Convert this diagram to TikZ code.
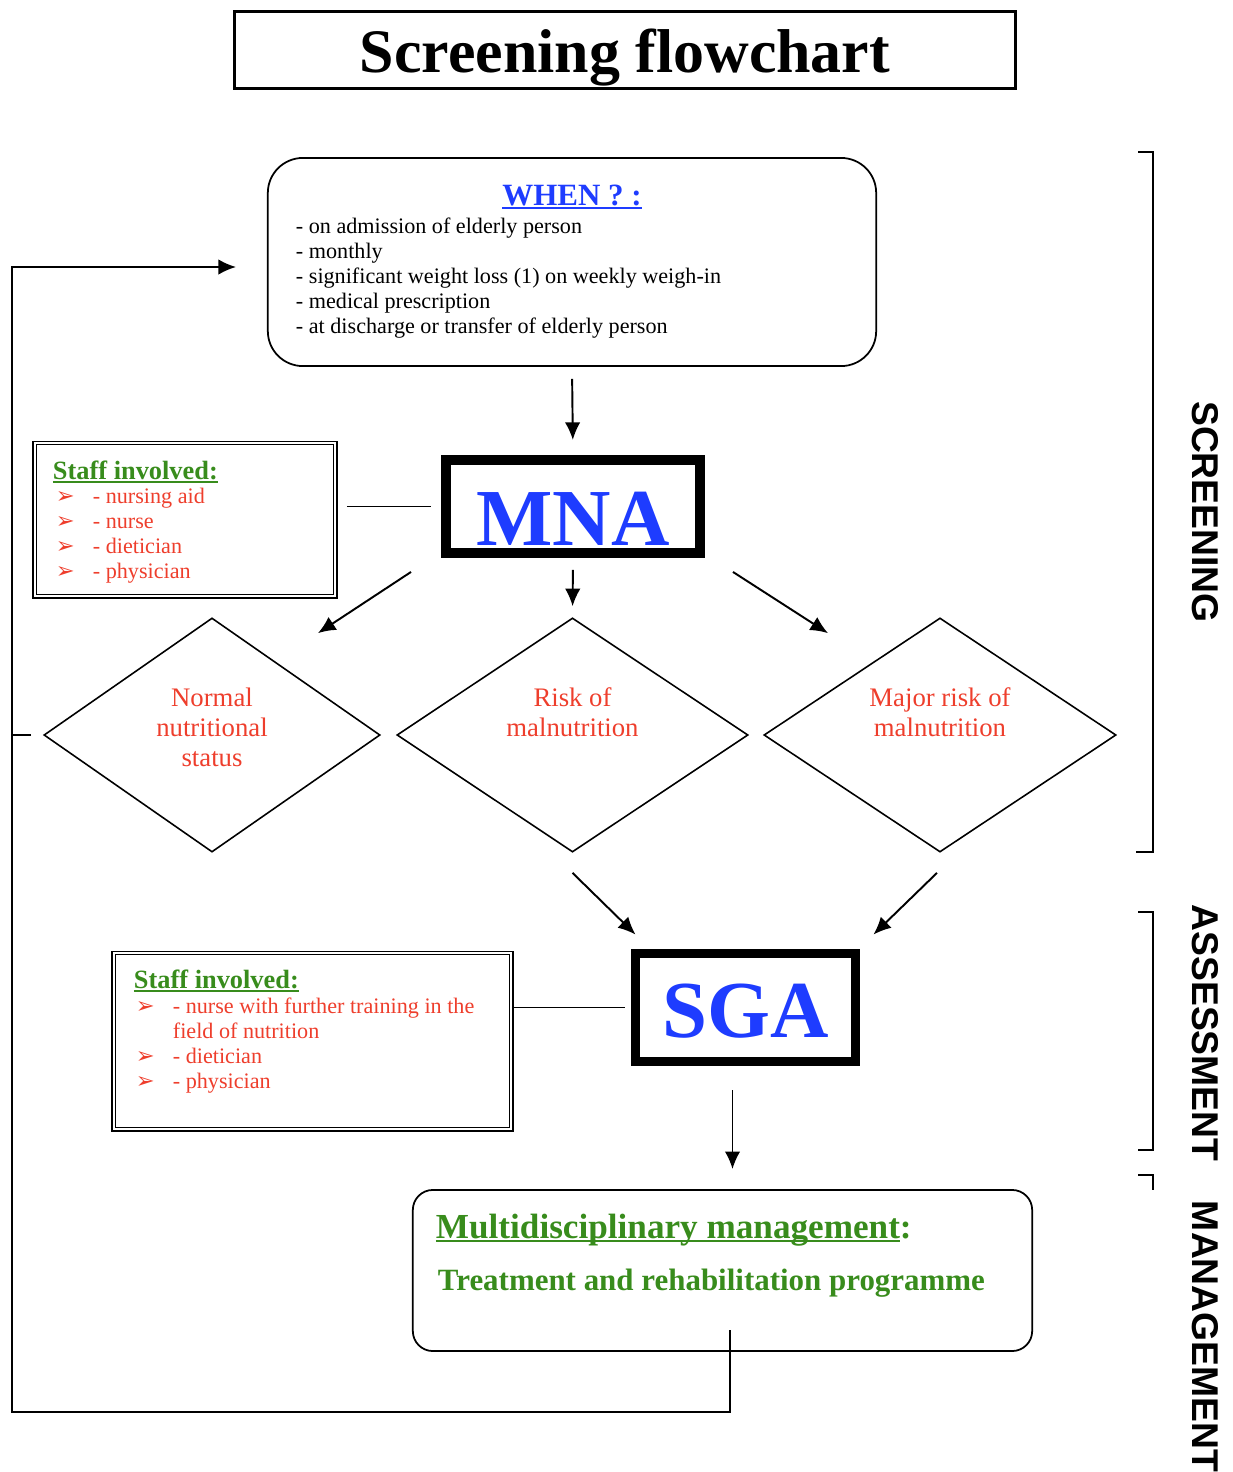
\documentclass[tikz,border=0pt]{standalone}
\usepackage{fontspec}
\setmainfont{Liberation Serif}
\newfontfamily\lsans{Liberation Sans}
\newfontfamily\symf{DejaVu Sans}
\usetikzlibrary{shapes.geometric,arrows.meta}
\definecolor{bl}{RGB}{30,60,255}
\definecolor{rd}{RGB}{238,62,44}
\definecolor{gn}{RGB}{56,140,28}
\newsavebox\ulbox
\newcommand{\undl}[1]{\sbox\ulbox{#1}\rlap{\rule[-1.2pt]{\wd\ulbox}{0.7pt}}\usebox\ulbox}
\newcommand{\bul}{\makebox[10.5pt][l]{\symf\fontsize{6.4}{6}\selectfont ➢}}

\begin{document}
\begin{tikzpicture}[x=0.01cm,y=-0.01cm,>={Latex[length=5pt,width=4.4pt]},line width=0.55pt,
    every node/.style={inner sep=0pt},
    bigbox/.style={draw,line width=2.8pt,text=bl,font=\bfseries\fontsize{23}{23}\selectfont},
    staffbox/.style={draw,line width=0.4pt,double,double distance=0.6pt},
    diam/.style={draw,diamond,line width=0.45pt,minimum width=3.36cm,minimum height=2.34cm},
    dtext/.style={align=center,text=rd,font=\fontsize{7.6}{8.6}\selectfont},
    stitle/.style={anchor=base west,text=gn,font=\bfseries\fontsize{7.5}{8}\selectfont},
    slist/.style={anchor=base west,align=left,text=rd,font=\fontsize{6.3}{7.1}\selectfont},
    side/.style={rotate=-90,font=\lsans\bfseries\fontsize{10.6}{11}\selectfont}]
    \useasboundingbox (0,0) rectangle (1232,1472);
    \node[draw,line width=1pt,minimum width=7.81cm,minimum height=0.77cm,text height=12.6pt,text depth=0pt,font=\bfseries\fontsize{17.6}{18}\selectfont] (title) at (625,50) {Screening flowchart};
    \node[draw,line width=0.5pt,rounded corners=0.35cm,minimum width=6.08cm,minimum height=2.08cm] (when) at (572,262) {};
    \node[anchor=base,text=bl,font=\bfseries\fontsize{8.8}{9}\selectfont] (whent) at (572,205) {\undl{WHEN ? :}};
    \node[anchor=base west,align=left,font=\fontsize{6.3}{7.1}\selectfont] (whenl) at (295,333) {- on admission of elderly person\\- monthly\\- significant weight loss (1) on weekly weigh-in\\- medical prescription\\- at discharge or transfer of elderly person};
    \node[bigbox,minimum width=2.54cm,minimum height=0.93cm,text height=21.9pt,text depth=0pt] (mna) at (573,506.5) {MNA};
    \node[staffbox,minimum width=3.0cm,minimum height=1.53cm] (staff1) at (185,519.5) {};
    \node[stitle] (s1t) at (52,479) {\undl{Staff involved:}};
    \node[slist] (s1l) at (55,578) {\bul- nursing aid\\\bul- nurse\\\bul- dietician\\\bul- physician};
    \node[diam] (normal) at (212,735) {};
    \node[diam,minimum width=3.51cm] (risk) at (572.5,735) {};
    \node[diam,minimum width=3.52cm] (major) at (940,735) {};
    \node[dtext] (normalt) at ([shift={(0,-7.5)}]normal.center) {Normal\\nutritional\\status};
    \node[dtext] (riskt) at ([shift={(0,-22.5)}]risk.center) {Risk of\\malnutrition};
    \node[dtext] (majort) at ([shift={(0,-22.5)}]major.center) {Major risk of\\malnutrition};
    \node[bigbox,minimum width=2.2cm,minimum height=1.08cm,text height=16.8pt,text depth=0pt] (sga) at (745.5,1007.5) {SGA};
    \node[staffbox,minimum width=3.97cm,minimum height=1.76cm] (staff2) at (312.5,1041) {};
    \node[stitle] (s2t) at (133,988) {\undl{Staff involved:}};
    \node[slist] (s2l) at (135,1088) {\bul- nurse with further training in the\\\hspace*{10.5pt}field of nutrition\\\bul- dietician\\\bul- physician};
    \node[draw,line width=0.5pt,rounded corners=0.2cm,minimum width=6.19cm,minimum height=1.61cm] (mgmt) at (722.5,1270.5) {};
    \node[anchor=base west,text=gn,font=\bfseries\fontsize{10}{10}\selectfont] (mgt) at (435,1238) {\undl{Multidisciplinary management}:};
    \node[anchor=base west,text=gn,font=\bfseries\fontsize{8.8}{9}\selectfont] (mgp) at (437,1290) {Treatment and rehabilitation programme};
    \node[side] (scr) at (1205,512) {SCREENING};
    \node[side] (ass) at (1205,1033) {ASSESSMENT};
    \node[side,anchor=west] (man) at (1205,1200) {MANAGEMENT};
    \coordinate (fb) at (730,1330);
    \coordinate (lb) at (12,1412);
    \coordinate (lt) at (12,267);
    \coordinate (wl) at (236,267);
    \draw[->,shorten <=3.4pt,shorten >=4.3pt] (when.south) -- (mna.north);
    \draw ([shift={(11,-13)}]staff1.east) -- ([shift={(-10,0)}]mna.west);
    \draw[->] ([shift={(-30,14)}]mna.south west) -- ([shift={(106,16)}]normal.north);
    \draw[->,shorten <=3.4pt,shorten >=3.1pt] (mna.south) -- (risk.north);
    \draw[->] ([shift={(28,14)}]mna.south east) -- ([shift={(-112,16)}]major.north);
    \draw[->] ([shift={(0,20)}]risk.south) -- ([shift={(5,-14)}]sga.north west);
    \draw[->] ([shift={(-3,20)}]major.south) -- ([shift={(13,-14)}]sga.north east);
    \draw (staff2.east |- sga.west) -- ([shift={(-6,0)}]sga.west);
    \draw[->] ([shift={(-13,24)}]sga.south) -- ([shift={(10,-20)}]mgmt.north);
    \draw[->] (fb) |- (lb) -- (lt) -- (wl);
    \draw ([shift={(-12,0)}]normal.west) -- (lt |- normal.west);
    \draw[line width=0.6pt] (1138,152) -- (1153,152) -- (1153,852) -- (1136,852);
    \draw[line width=0.6pt] (1138,912) -- (1153,912) -- (1153,1150) -- (1138,1150);
    \draw[line width=0.6pt] (1138,1175) -- (1153,1175) -- (1153,1190);
\end{tikzpicture}
\end{document}
